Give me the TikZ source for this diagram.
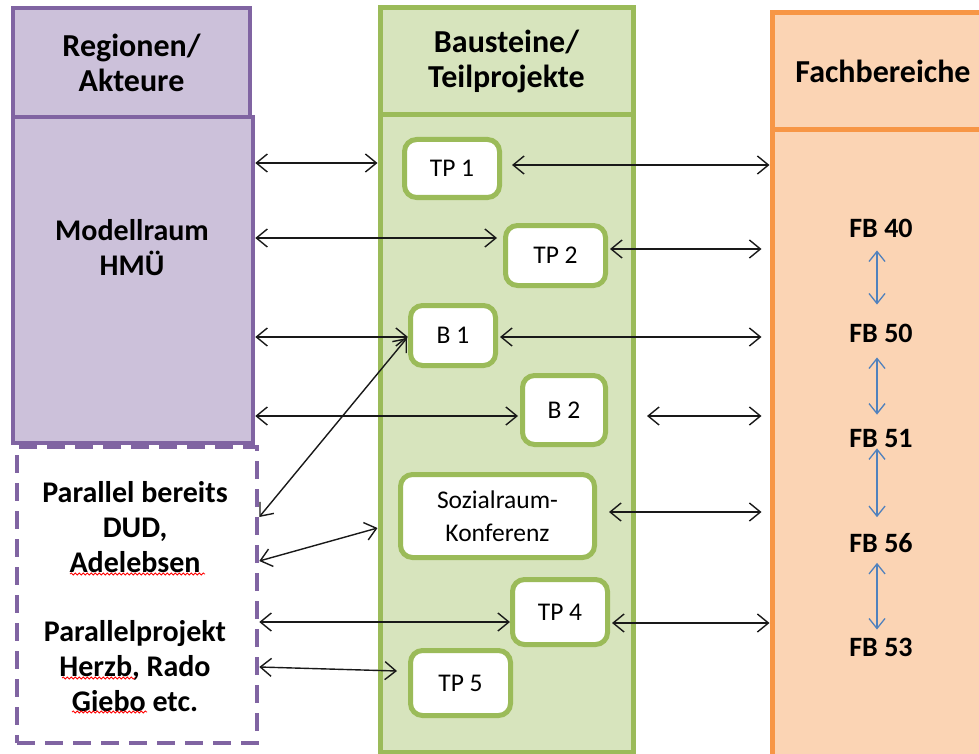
\documentclass[tikz,border=0pt]{standalone}
\usepackage{fontspec}
\setmainfont{Carlito}
\usetikzlibrary{arrows.meta, positioning, calc, decorations.pathmorphing}

\definecolor{regline}{HTML}{8064A2}
\definecolor{regfill}{HTML}{CCC1DA}
\definecolor{bauline}{HTML}{9BBB59}
\definecolor{baufill}{HTML}{D7E4BD}
\definecolor{fachline}{HTML}{F79646}
\definecolor{fachfill}{HTML}{FBD4B4}
\definecolor{fbblue}{HTML}{4F81BD}

\begin{document}
\begin{tikzpicture}[
    x=1pt, y=-1pt,
    colhead/.style={rectangle, draw, line width=4.5pt, inner sep=0pt, align=center, font=\fontsize{32}{35}\selectfont\bfseries},
    colbody/.style={rectangle, draw, line width=4.5pt, inner sep=0pt},
    tpbox/.style={rectangle, draw=bauline, fill=white, line width=5pt, rounded corners=12pt, inner sep=0pt, align=center, font=\fontsize{25.5}{33}\selectfont},
    txt/.style={align=center, inner sep=0pt, font=\fontsize{30}{35}\selectfont\bfseries},
    fbtxt/.style={inner sep=0pt, font=\fontsize{28}{33}\selectfont\bfseries},
    link/.style={draw=black!90, line width=1.4pt, {Straight Barb[length=11pt,width=18pt]}-{Straight Barb[length=11pt,width=18pt]}},
    fblink/.style={draw=fbblue, line width=1.3pt, {Straight Barb[length=10pt,width=16pt]}-{Straight Barb[length=10pt,width=16pt]}},
    spell/.style={draw=red, line width=0.8pt, decorate, decoration={snake, amplitude=1pt, segment length=4pt}}
]
    \useasboundingbox (0,0) rectangle (979,754);
    \clip (0,0) rectangle (979,754);

    % Columns
    \node [colhead, draw=regline, fill=regfill, minimum width=237pt, minimum height=109pt] (reghead) at (131.5,62.5) {Regionen/\\Akteure};
    \node [colbody, draw=regline, fill=regfill, minimum width=240pt, minimum height=326pt] (regbody) at (133,280) {};
    \node [colbody, draw=regline, dash pattern=on 18pt off 10pt, minimum width=240pt, minimum height=296pt] (parbody) at (137,595) {};

    \node [colhead, draw=bauline, fill=baufill, line width=5pt, minimum width=253pt, minimum height=637pt] (baubody) at (506.5,433.5) {};
    \node [colhead, draw=bauline, fill=baufill, line width=5pt, minimum width=253pt, minimum height=107pt] (bauhead) at (506.5,61.5) {Bausteine/\\Teilprojekte};

    \node [colbody, draw=fachline, fill=fachfill, line width=5pt, minimum width=222pt, minimum height=640pt] (fachbody) at (883,450) {};
    \node [colhead, draw=fachline, fill=fachfill, line width=5pt, minimum width=222pt, minimum height=117pt] (fachhead) at (883,71.5) {Fachbereiche};

    % Texts
    \node [txt] (modell) at (132,248) {Modellraum\\HMÜ};
    \node [txt] (par1) at (135,527) {Parallel bereits\\DUD,\\Adelebsen};
    \node [txt] (par2) at (135,666) {Parallelprojekt\\Herzb, Rado\\Giebo etc.};
    \draw [spell] (70,574) -- (205,574);
    \draw [spell] (62,678) -- (135,678);
    \draw [spell] (72,712) -- (147,712);

    \node [fbtxt] (fb40) at (881,228) {FB 40};
    \node [fbtxt] (fb50) at (881,333) {FB 50};
    \node [fbtxt] (fb51) at (881,438) {FB 51};
    \node [fbtxt] (fb56) at (881,543) {FB 56};
    \node [fbtxt] (fb53) at (881,647) {FB 53};

    % Bausteine
    \node [tpbox, minimum width=95pt, minimum height=58pt] (tp1) at (452,168.5) {TP 1};
    \node [tpbox, minimum width=100pt, minimum height=60pt] (tp2) at (555.5,255.5) {TP 2};
    \node [tpbox, minimum width=85pt, minimum height=60pt] (b1) at (453,335.5) {B 1};
    \node [tpbox, minimum width=83pt, minimum height=69pt] (b2) at (564,410) {B 2};
    \node [tpbox, minimum width=194pt, minimum height=83pt] (soz) at (497.5,516) {Sozialraum-\\Konferenz};
    \node [tpbox, minimum width=95pt, minimum height=65pt] (tp4) at (560,612) {TP 4};
    \node [tpbox, minimum width=100pt, minimum height=65pt] (tp5) at (460.5,683) {TP 5};
    \coordinate (b2free) at (647,416);

    % Edges
    \path [link] ($(regbody.east |- tp1)+(0,-5.5)$) -- ($(baubody.west |- tp1)+(0,-5.5)$);
    \path [link] ($(regbody.east |- tp2)+(0,-17.5)$) -- ($(tp2.west)+(-6,-17.5)$);
    \path [link] ($(tp1.east)+(10,-3.5)$) -- ($(fachbody.west |- tp1)+(0,-3.5)$);
    \path [link] ($(tp2.east)+(2,-6.5)$) -- ($(fachbody.west |- tp2)+(-8,-6.5)$);
    \path [link] ($(regbody.east |- b1)+(0,1.5)$) -- ($(b1.west)+(0,1.5)$);
    \path [link] ($(b1.east)+(2,1.5)$) -- ($(fachbody.west |- b1)+(-8,1.5)$);
    \path [link] ($(regbody.east |- b2)+(0,6)$) -- ($(b2.west)+(-2,6)$);
    \path [link] (b2free) -- ($(fachbody.west |- b2free)+(-8,0)$);
    \path [link] ($(parbody.east |- par1)+(0,-10)$) -- ($(b1.west)+(-1,2.5)$);
    \path [link] ($(parbody.east |- par1)+(0,34)$) -- ($(baubody.west |- soz)+(0,12)$);
    \path [link] ($(soz.east)+(12,-4)$) -- ($(fachbody.west |- soz)+(-8,-4)$);
    \path [link] ($(parbody.east |- tp4)+(0,10)$) -- ($(tp4.west)+(0,10)$);
    \path [link] ($(tp4.east)+(2,11)$) -- ($(fachbody.west |- tp4)+(0,11)$);
    \path [link] ($(parbody.east |- tp5)+(0,-16)$) -- ($(tp5.west)+(-11,-12)$);

    \path [fblink] ($(fb40.south)+(-4,13)$) -- ($(fb50.north)+(-4,-19)$);
    \path [fblink] ($(fb50.south)+(-4,15)$) -- ($(fb51.north)+(-4,-14)$);
    \path [fblink] ($(fb51.south)+(-4,1)$) -- ($(fb56.north)+(-4,-16)$);
    \path [fblink] ($(fb56.south)+(-4,10)$) -- ($(fb53.north)+(-4,-8)$);
\end{tikzpicture}
\end{document}
